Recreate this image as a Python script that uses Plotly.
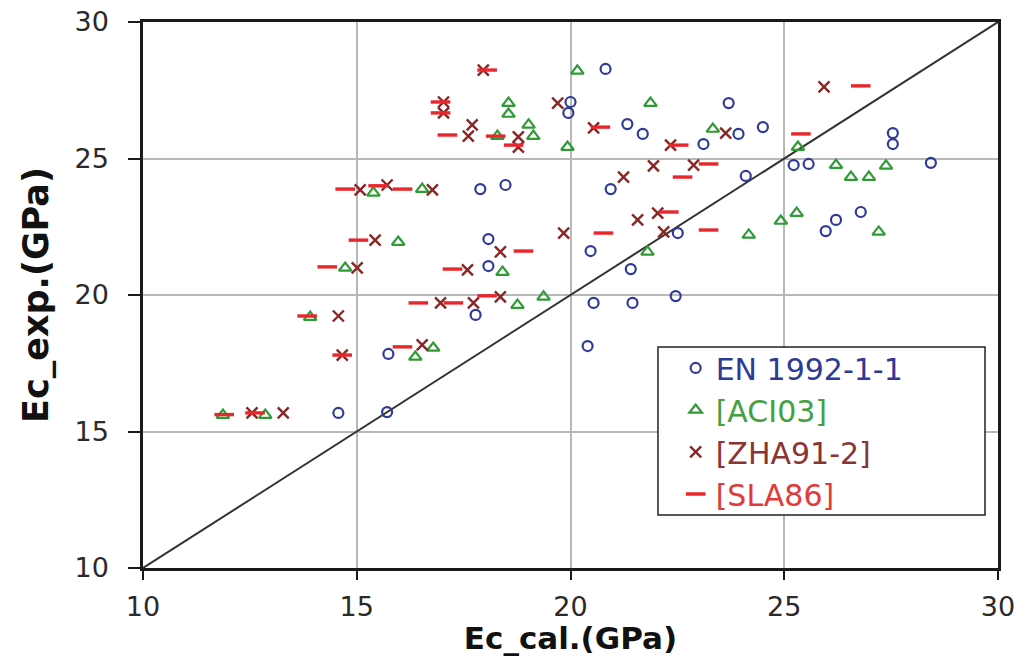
import plotly.graph_objects as go

# Measured vs. calculated modulus of elasticity (GPa) for four prediction models
en_cal = [20.82, 20.00, 19.95, 23.70, 21.33, 21.69, 23.11, 23.93, 24.50, 27.54, 27.54,
          25.22, 25.57, 28.43, 24.10, 20.94, 17.89, 18.48, 18.08, 18.08, 20.47, 21.41,
          22.51, 26.79, 26.21, 25.97, 20.54, 21.45, 22.46, 17.78, 20.40, 15.74, 14.57, 15.71]
en_exp = [28.28, 27.07, 26.67, 27.03, 26.26, 25.90, 25.53, 25.90, 26.15, 25.93, 25.53,
          24.76, 24.80, 24.84, 24.36, 23.88, 23.88, 24.03, 22.05, 21.06, 21.61, 20.95,
          22.27, 23.04, 22.75, 22.34, 19.71, 19.71, 19.96, 19.27, 18.13, 17.84, 15.68, 15.71]

aci_cal = [20.16, 18.55, 18.55, 21.87, 19.02, 19.13, 18.29, 19.93, 23.33, 25.32, 26.21,
           27.38, 26.56, 26.98, 24.92, 25.29, 27.21, 24.17, 21.80, 18.41, 18.76, 19.37,
           15.39, 16.53, 15.97, 14.73, 13.91, 16.37, 16.79, 11.87, 12.86]
aci_exp = [28.21, 27.03, 26.63, 27.03, 26.23, 25.82, 25.82, 25.42, 26.08, 25.42, 24.76,
           24.73, 24.32, 24.32, 22.71, 23.00, 22.31, 22.20, 21.58, 20.84, 19.63, 19.93,
           23.74, 23.88, 21.94, 20.99, 19.19, 17.73, 18.06, 15.60, 15.60]

zha_cal = [17.96, 17.03, 17.03, 17.70, 17.61, 18.78, 18.78, 19.70, 20.54, 23.63, 22.34,
           21.94, 22.88, 21.24, 25.93, 21.57, 22.04, 22.18, 19.84, 18.36, 17.59, 16.96,
           17.73, 18.36, 15.08, 15.71, 16.77, 15.43, 15.01, 14.57, 14.66, 16.53, 12.55, 13.28]
zha_exp = [28.24, 27.07, 26.67, 26.23, 25.82, 25.79, 25.42, 27.03, 26.12, 25.93, 25.49,
           24.73, 24.76, 24.32, 27.62, 22.75, 23.00, 22.31, 22.27, 21.58, 20.92, 19.71,
           19.71, 19.93, 23.85, 24.03, 23.85, 22.01, 20.99, 19.23, 17.80, 18.17, 15.68, 15.68]

sla_cal = [18.05, 16.96, 16.96, 17.12, 18.67, 20.70, 22.53, 23.23, 22.62, 25.39, 26.79,
           22.30, 20.77, 23.23, 18.90, 17.24, 16.44, 17.26, 18.05, 14.73, 15.50, 16.07,
           15.04, 14.31, 13.84, 14.66, 16.07, 12.62, 11.90, 18.25]
sla_exp = [28.24, 27.07, 26.67, 25.86, 25.49, 26.15, 25.49, 24.80, 24.32, 25.90, 27.66,
           23.04, 22.27, 22.38, 21.61, 20.95, 19.71, 19.71, 19.97, 23.88, 24.00, 23.88,
           22.01, 21.03, 19.23, 17.80, 18.10, 15.68, 15.62, 25.82]

series_names = ["EN 1992-1-1", "[ACI03]", "[ZHA91-2]", "[SLA86]"]
axis_range = [10, 30]
tick_values = [10, 15, 20, 25, 30]
identity_line = [10, 30]

FONT = "DejaVu Sans, Arial, sans-serif"
C_EN, C_ACI, C_ZHA, C_SLA = "#2e3a96", "#2f9a36", "#8a2626", "#e8262b"

fig = go.Figure()

# line of equality
fig.add_trace(go.Scatter(x=identity_line, y=identity_line, mode="lines",
                         line=dict(color="#333333", width=2),
                         showlegend=False, hoverinfo="skip"))


def legend_label(text, color):
    return f"<span style='color:{color}'>{text}</span>"


fig.add_trace(go.Scatter(
    x=en_cal, y=en_exp, mode="markers", name=legend_label(series_names[0], C_EN),
    legendgroup="a",
    marker=dict(symbol="circle-open", size=10, color=C_EN, line=dict(width=2.2, color=C_EN))))
fig.add_trace(go.Scatter(
    x=aci_cal, y=aci_exp, mode="markers", name=legend_label(series_names[1], "#44a040"),
    legendgroup="b",
    marker=dict(symbol="triangle-up-open", size=11, color=C_ACI, line=dict(width=2.2, color=C_ACI))))
fig.add_trace(go.Scatter(
    x=zha_cal, y=zha_exp, mode="markers", name=legend_label(series_names[2], "#8a3434"),
    legendgroup="c",
    marker=dict(symbol="x-thin", size=11, color=C_ZHA, line=dict(width=2.4, color=C_ZHA))))
fig.add_trace(go.Scatter(
    x=sla_cal, y=sla_exp, mode="markers", name=legend_label(series_names[3], "#e23a3a"),
    legendgroup="d",
    marker=dict(symbol="line-ew", size=14, color=C_SLA, line=dict(width=3.4, color=C_SLA))))

axis_common = dict(
    range=axis_range, tickvals=tick_values, showgrid=True, gridcolor="#b8b8b8", gridwidth=1.5,
    zeroline=False, showline=True, linecolor="#1a1a1a", linewidth=2.5, mirror=True,
    ticks="outside", tickwidth=2, tickcolor="#1a1a1a", automargin=False,
    tickfont=dict(family=FONT, size=27, color="#2a2a2a"),
)

fig.update_layout(
    width=1025, height=656,
    margin=dict(l=143, r=27, t=22, b=88),
    paper_bgcolor="white", plot_bgcolor="white",
    xaxis=dict(**axis_common, ticklen=9, ticklabelstandoff=4,
               title=dict(text="<b>Ec_cal.(GPa)</b>", standoff=8,
                          font=dict(family=FONT, size=31, color="#111"))),
    yaxis=dict(**axis_common, ticklen=12, ticklabelstandoff=14,
               title=dict(text="<b>Ec_exp.(GPa)</b>", standoff=16,
                          font=dict(family=FONT, size=35, color="#111"))),
    # framed box behind the legend entries
    shapes=[dict(type="rect", xref="paper", yref="paper",
                 x0=0.6023, x1=0.9848, y0=0.0971, y1=0.4048,
                 line=dict(color="#222", width=1.5), fillcolor="white", layer="above")],
    legend=dict(x=0.623, y=0.414, xanchor="left", yanchor="top",
                borderwidth=0, bgcolor="rgba(0,0,0,0)",
                font=dict(family=FONT, size=30),
                tracegroupgap=0, itemwidth=30),
    showlegend=True,
)

fig.write_html("out.html")
